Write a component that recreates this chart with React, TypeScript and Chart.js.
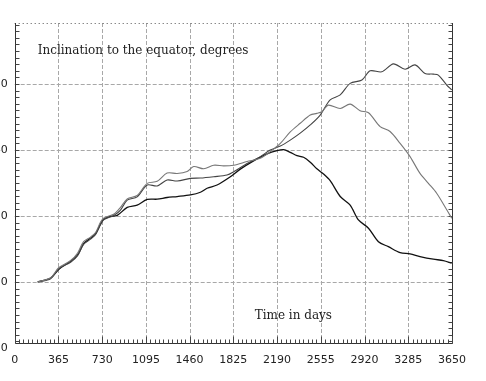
import React, { useEffect, useRef } from "react";
import { Chart, registerables } from "chart.js";

Chart.register(...registerables);

const xTickValues = [0, 365, 730, 1095, 1460, 1825, 2190, 2555, 2920, 3285, 3650];
const yTickValues = [-20, 0, 20, 40, 60];

const titleText = "Inclination to the equator, degrees";
const xTitleText = "Time in days";

// Darkest curve: peaks near day 2200, then falls
const daysA = [192, 300, 367, 467, 525, 575, 633, 675, 717, 742, 790, 856, 939, 1022, 1106, 1189, 1272, 1356, 1467, 1550, 1606, 1689, 1800, 1883, 1994, 2106, 2189, 2244, 2300, 2356, 2411, 2467, 2522, 2578, 2633, 2717, 2800, 2869, 2953, 3036, 3119, 3217, 3300, 3383, 3494, 3578, 3648];
const incA = [0, 1.2, 3.8, 6.3, 8.2, 11.6, 13.3, 14.6, 17.6, 19.0, 19.8, 20.2, 22.6, 23.3, 25.0, 25.1, 25.6, 25.9, 26.4, 27.2, 28.4, 29.4, 31.9, 34.2, 36.7, 38.8, 39.8, 40.1, 39.3, 38.3, 37.8, 36.3, 34.3, 32.7, 30.7, 25.9, 23.3, 18.8, 16.3, 12.2, 10.7, 8.9, 8.5, 7.7, 6.9, 6.5, 5.7];

// Light curve: highest plateau, peaks near day 2800, ends near 20
const daysB = [192, 300, 367, 467, 525, 575, 633, 675, 717, 742, 772, 830, 883, 939, 1022, 1106, 1189, 1272, 1356, 1439, 1494, 1578, 1661, 1744, 1828, 1939, 2050, 2133, 2217, 2300, 2383, 2467, 2522, 2564, 2617, 2717, 2800, 2883, 2953, 3050, 3133, 3217, 3300, 3383, 3453, 3522, 3606, 3648];
const incB = [0, 1.3, 4.3, 6.5, 8.8, 12.2, 13.6, 15.0, 18.2, 19.3, 19.8, 20.6, 22.6, 25.2, 26.2, 29.9, 30.5, 33.0, 32.9, 33.5, 35.0, 34.3, 35.4, 35.2, 35.4, 36.5, 37.5, 39.5, 42.0, 45.5, 48.1, 50.6, 51.1, 51.6, 53.6, 52.6, 53.9, 51.9, 51.3, 47.1, 45.6, 42.0, 38.0, 32.9, 29.9, 26.9, 21.9, 19.3];

// Medium curve: middle plateau, keeps rising to ~66
const daysC = [192, 300, 367, 467, 525, 575, 633, 675, 717, 742, 790, 830, 883, 939, 1022, 1106, 1189, 1272, 1356, 1467, 1550, 1661, 1772, 1828, 1939, 2050, 2133, 2217, 2300, 2383, 2467, 2550, 2633, 2717, 2800, 2898, 2967, 3064, 3161, 3258, 3342, 3425, 3494, 3536, 3606, 3648];
const incC = [0, 1.0, 4.0, 6.0, 8.0, 11.4, 13.0, 14.4, 17.4, 18.8, 19.6, 20.2, 21.8, 24.8, 25.8, 29.4, 29.1, 30.9, 30.6, 31.4, 31.5, 31.9, 32.4, 33.4, 35.9, 38.0, 40.0, 41.2, 43.0, 45.1, 47.6, 50.6, 55.2, 56.7, 60.2, 61.2, 64.0, 63.7, 66.1, 64.5, 65.8, 63.2, 63.0, 62.7, 59.7, 58.2];

const toPoints = (xs: number[], ys: number[]) => xs.map((d, i) => ({ x: d, y: ys[i] }));

const framePlugin = {
  id: "frame",
  beforeDatasetsDraw(chart: any) {
    const { ctx, chartArea, scales } = chart;
    const { left, right, top, bottom } = chartArea;
    const xs = scales.x;
    const ys = scales.y;
    ctx.save();
    // dashed grid
    ctx.strokeStyle = "#a8a8a8";
    ctx.lineWidth = 1;
    ctx.setLineDash([4, 2]);
    for (const v of xTickValues) {
      if (v <= xs.min || v >= xs.max) continue;
      const px = Math.round(xs.getPixelForValue(v)) + 0.5;
      ctx.beginPath();
      ctx.moveTo(px, top);
      ctx.lineTo(px, bottom);
      ctx.stroke();
    }
    for (const v of yTickValues) {
      if (v <= ys.min || v >= ys.max) continue;
      const py = Math.round(ys.getPixelForValue(v)) + 0.5;
      ctx.beginPath();
      ctx.moveTo(left, py);
      ctx.lineTo(right, py);
      ctx.stroke();
    }
    // dotted top border
    ctx.strokeStyle = "#555";
    ctx.setLineDash([1, 3]);
    ctx.beginPath();
    ctx.moveTo(left, Math.round(top) + 0.5);
    ctx.lineTo(right, Math.round(top) + 0.5);
    ctx.stroke();
    ctx.setLineDash([]);
    // solid borders
    ctx.strokeStyle = "#333";
    const L = Math.round(left) + 0.5;
    const R = Math.round(right) + 0.5;
    const B = Math.round(bottom) + 0.5;
    ctx.beginPath();
    ctx.moveTo(L, top);
    ctx.lineTo(L, B);
    ctx.lineTo(R, B);
    ctx.lineTo(R, top);
    ctx.stroke();
    // minor ticks on left/right
    ctx.strokeStyle = "#444";
    const yStart = Math.ceil(ys.min / 2) * 2;
    for (let v = yStart; v <= ys.max; v += 2) {
      const py = Math.round(ys.getPixelForValue(v)) + 0.5;
      ctx.beginPath();
      ctx.moveTo(L, py);
      ctx.lineTo(L + 4, py);
      ctx.moveTo(R, py);
      ctx.lineTo(R - 4, py);
      ctx.stroke();
    }
    // ticks on bottom
    for (let i = 0; i <= 100; i++) {
      const v = i * 36.5;
      const px = Math.round(xs.getPixelForValue(v)) + 0.5;
      const len = i % 10 === 0 ? 7 : 4;
      ctx.beginPath();
      ctx.moveTo(px, B);
      ctx.lineTo(px, B - len);
      ctx.stroke();
    }
    ctx.restore();
  },
  afterDatasetsDraw(chart: any) {
    const { ctx, chartArea } = chart;
    const { left, top, bottom } = chartArea;
    ctx.save();
    ctx.fillStyle = "#222";
    ctx.font = "12px 'DejaVu Serif'";
    ctx.textBaseline = "middle";
    ctx.textAlign = "left";
    ctx.fillText(titleText, left + 23, top + 28);
    ctx.fillText(xTitleText, left + 240, bottom - 27);
    ctx.restore();
  },
};

export default function App() {
  const ref = useRef<HTMLCanvasElement | null>(null);
  useEffect(() => {
    if (!ref.current) return;
    const chart = new Chart(ref.current, {
      type: "line",
      data: {
        datasets: [
          { data: toPoints(daysB, incB), borderColor: "#777", borderWidth: 1.1, pointRadius: 0, tension: 0.3, fill: false },
          { data: toPoints(daysC, incC), borderColor: "#444", borderWidth: 1.1, pointRadius: 0, tension: 0.3, fill: false },
          { data: toPoints(daysA, incA), borderColor: "#111", borderWidth: 1.3, pointRadius: 0, tension: 0.3, fill: false },
        ],
      },
      options: {
        animation: false,
        responsive: false,
        maintainAspectRatio: false,
        layout: { padding: { left: 0, top: 23, right: 34, bottom: 0 } },
        plugins: { legend: { display: false }, tooltip: { enabled: false }, title: { display: false } },
        scales: {
          x: {
            type: "linear",
            min: 0,
            max: 3650,
            grid: { display: false, drawTicks: false },
            border: { display: false },
            afterBuildTicks: (s: any) => {
              s.ticks = xTickValues.map((v) => ({ value: v }));
            },
            afterFit: (s: any) => {
              s.height = 38;
            },
            ticks: {
              autoSkip: false,
              maxRotation: 0,
              padding: 11,
              color: "#222",
              font: { family: "'DejaVu Sans'", size: 11 },
              callback: (v: any) => String(v),
            },
          },
          y: {
            type: "linear",
            min: -18.5,
            max: 78.5,
            grid: { display: false, drawTicks: false },
            border: { display: false },
            afterBuildTicks: (s: any) => {
              s.ticks = yTickValues.map((v) => ({ value: v }));
            },
            afterFit: (s: any) => {
              s.width = 14.7;
            },
            ticks: {
              autoSkip: false,
              padding: 7,
              color: "#222",
              font: { family: "'DejaVu Sans'", size: 11 },
              callback: (v: any) => String(v),
            },
          },
        },
      },
      plugins: [framePlugin],
    });
    return () => chart.destroy();
  }, []);
  return (
    <div style={{ position: "absolute", left: 0, top: 0, width: 486, height: 381, background: "#fff" }}>
      <canvas ref={ref} width={486} height={381} />
    </div>
  );
}
